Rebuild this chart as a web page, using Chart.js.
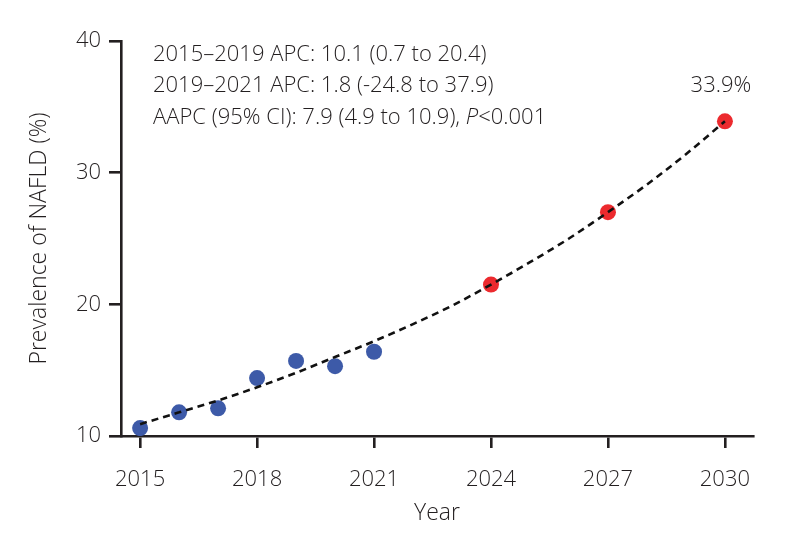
<!DOCTYPE html>
<html>
<head>
<meta charset="utf-8">
<title>NAFLD prevalence</title>
<script src="https://cdn.jsdelivr.net/npm/chart.js@4.4.1/dist/chart.umd.min.js"></script>
<style>
  html, body { margin: 0; padding: 0; background: #fff; }
  #wrap { width: 785px; height: 540px; }
</style>
</head>
<body>
<div id="wrap"><canvas id="c" width="785" height="540"></canvas></div>
<script>
const obsYears = [2015, 2016, 2017, 2018, 2019, 2020, 2021];
const observed = [10.6, 11.8, 12.1, 14.4, 15.7, 15.3, 16.4];
const projYears = [2024, 2027, 2030];
const projected = [21.5, 27.0, 33.9];
// dashed fitted curve, read at each year
const fitYears = [2015, 2016, 2017, 2018, 2019, 2020, 2021, 2022, 2023, 2024, 2025, 2026, 2027, 2028, 2029, 2030];
const fitted = [10.9, 11.8, 12.7, 13.7, 14.8, 16.0, 17.2, 18.5, 19.9, 21.5, 23.2, 25.0, 27.0, 29.1, 31.4, 33.9];
const xTicks = [2015, 2018, 2021, 2024, 2027, 2030];
const yTicks = [10, 20, 30, 40];
const notes = ['2015–2019 APC: 10.1 (0.7 to 20.4)', '2019–2021 APC: 1.8 (-24.8 to 37.9)'];
const noteLast = ['AAPC (95% CI): 7.9 (4.9 to 10.9), ', 'P', '<0.001'];
const endLabel = '33.9%';

const INK = '#231f20';
const FONT = '"Open Sans", "Noto Sans", sans-serif';
const W = 300;
const pts = (xs, ys) => xs.map((x, i) => ({ x, y: ys[i] }));

const notesPlugin = {
  id: 'notes',
  afterDatasetsDraw(chart) {
    const { ctx, scales } = chart;
    ctx.save();
    ctx.fillStyle = INK;
    ctx.textBaseline = 'alphabetic';
    ctx.font = W + ' 22px ' + FONT;
    const x0 = 153, base = [60.5, 92, 123.5];
    notes.forEach((t, i) => ctx.fillText(t, x0, base[i]));
    let x = x0;
    noteLast.forEach((t, i) => {
      ctx.font = (i === 1 ? 'italic ' : '') + W + ' 22px ' + FONT;
      ctx.fillText(t, x, base[2]);
      x += ctx.measureText(t).width;
    });
    // label above the last projected point
    ctx.font = W + ' 22px ' + FONT;
    ctx.textAlign = 'center';
    const last = projYears.length - 1;
    ctx.fillText(endLabel, scales.x.getPixelForValue(projYears[last]) - 4, scales.y.getPixelForValue(projected[last]) - 29);
    ctx.restore();
  }
};

new Chart(document.getElementById('c'), {
  type: 'scatter',
  data: {
    datasets: [
      { type: 'line', data: pts(fitYears, fitted), borderColor: '#111', borderWidth: 2.6, borderDash: [7, 5], pointRadius: 0, tension: 0.4, cubicInterpolationMode: 'monotone', order: 0 },
      { data: pts(obsYears, observed), backgroundColor: '#3d5aa8', borderWidth: 0, pointRadius: 8, order: 1 },
      { data: pts(projYears, projected), backgroundColor: '#ec2a2e', borderWidth: 0, pointRadius: 8, order: 1 }
    ]
  },
  options: {
    responsive: false,
    animation: false,
    devicePixelRatio: 1,
    layout: { padding: { top: 41, right: 32, bottom: 0, left: 0 } },
    plugins: { legend: { display: false }, tooltip: { enabled: false } },
    scales: {
      x: {
        type: 'linear', min: 2014.51, max: 2030.72,
        afterBuildTicks: (s) => { s.ticks = xTicks.map((v) => ({ value: v })); },
        afterFit: (s) => { s.height = 104; },
        border: { display: true, color: INK, width: 2.6 },
        grid: { drawOnChartArea: false, drawTicks: true, tickLength: 12, color: INK, lineWidth: 2.6 },
        ticks: { color: INK, font: { family: FONT, size: 22, weight: W }, padding: 19, maxRotation: 0, callback: (v) => String(v) },
        title: { display: true, text: 'Year', color: INK, font: { family: FONT, size: 23, weight: W }, padding: { top: 0, bottom: 13 } }
      },
      y: {
        min: 10, max: 40,
        afterBuildTicks: (s) => { s.ticks = yTicks.map((v) => ({ value: v })); },
        afterFit: (s) => { s.width = 121; },
        border: { display: true, color: INK, width: 2.6 },
        grid: { drawOnChartArea: false, drawTicks: true, tickLength: 12, color: INK, lineWidth: 2.6 },
        ticks: { color: INK, font: { family: FONT, size: 22, weight: W }, padding: 8 },
        title: { display: true, text: 'Prevalence of NAFLD (%)', color: INK, font: { family: FONT, size: 23, weight: W }, padding: { top: 26, bottom: 0 } }
      }
    }
  },
  plugins: [notesPlugin]
});
</script>
</body>
</html>
